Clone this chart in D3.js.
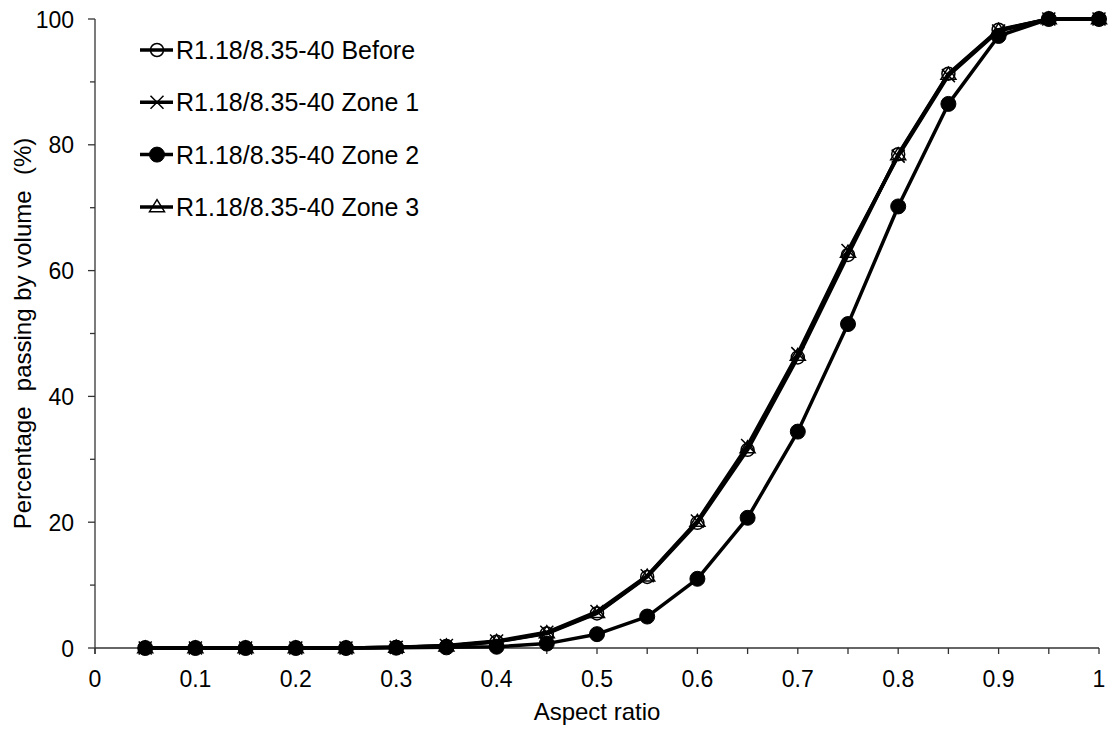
<!DOCTYPE html>
<html>
<head>
<meta charset="utf-8">
<script src="https://cdn.jsdelivr.net/npm/d3@7"></script>
<style>
  html, body { margin: 0; padding: 0; background: #fff; }
  svg { display: block; }
  text { font-family: "Liberation Sans", Arial, sans-serif; fill: #000; }
</style>
</head>
<body>
<svg id="chart" width="1112" height="731"></svg>
<script>
// Aspect ratio classes (upper bound of each class)
const aspectRatio = [0.05, 0.1, 0.15, 0.2, 0.25, 0.3, 0.35, 0.4, 0.45, 0.5, 0.55, 0.6, 0.65, 0.7, 0.75, 0.8, 0.85, 0.9, 0.95, 1.0];

// Cumulative percentage passing by volume (%)
const before = [0, 0, 0, 0, 0, 0.1, 0.3, 1.0, 2.3, 5.5, 11.3, 19.9, 31.5, 46.2, 62.5, 78.5, 91.3, 98.3, 100, 100];
const zone1  = [0, 0, 0, 0, 0, 0.1, 0.4, 1.1, 2.5, 5.8, 11.5, 20.2, 32.2, 46.8, 63.2, 78.2, 91.0, 98.1, 100, 100];
const zone2  = [0, 0, 0, 0, 0, 0.05, 0.1, 0.2, 0.7, 2.2, 5.0, 11.0, 20.7, 34.4, 51.5, 70.2, 86.5, 97.3, 100, 100];
const zone3  = [0, 0, 0, 0, 0, 0.1, 0.3, 1.0, 2.4, 5.6, 11.4, 20.1, 31.8, 46.5, 62.9, 78.4, 91.2, 98.2, 100, 100];

const seriesNames = ["R1.18/8.35-40 Before", "R1.18/8.35-40 Zone 1", "R1.18/8.35-40 Zone 2", "R1.18/8.35-40 Zone 3"];
const seriesMarkers = ["openCircle", "cross", "filledCircle", "openTriangle"];

const xTicks = [0, 0.1, 0.2, 0.3, 0.4, 0.5, 0.6, 0.7, 0.8, 0.9, 1];
const yTicks = [0, 20, 40, 60, 80, 100];

const series = [before, zone1, zone2, zone3].map((vals, i) => ({
  name: seriesNames[i],
  marker: seriesMarkers[i],
  points: vals.map((v, j) => ({ x: aspectRatio[j], y: v }))
}));

const svg = d3.select("#chart");
const plotLeft = 95, plotRight = 1099, plotTop = 19, plotBottom = 648;

const x = d3.scaleLinear().domain([0, 1]).range([plotLeft, plotRight]);
const y = d3.scaleLinear().domain([0, 100]).range([plotBottom, plotTop]);

// Minor ticks
const xMinor = d3.range(0, 1.0001, 0.05);
const yMinor = d3.range(10, 100, 20);

const axisColor = "#333";

// X axis
const gx = svg.append("g").attr("transform", `translate(0,${plotBottom})`);
gx.append("line").attr("x1", plotLeft).attr("x2", plotRight).attr("y1", 0).attr("y2", 0)
  .attr("stroke", axisColor).attr("stroke-width", 1.3);
gx.selectAll("line.tick").data(xMinor).join("line")
  .attr("class", "tick")
  .attr("x1", d => x(d)).attr("x2", d => x(d))
  .attr("y1", 0).attr("y2", 6)
  .attr("stroke", axisColor).attr("stroke-width", 1.3);
gx.selectAll("text").data(xTicks).join("text")
  .attr("x", d => x(d)).attr("y", 39)
  .attr("text-anchor", "middle")
  .style("font-size", "23px")
  .text(d => d3.format("~g")(d));

// Y axis
const gy = svg.append("g");
gy.append("line").attr("x1", plotLeft).attr("x2", plotLeft).attr("y1", plotTop).attr("y2", plotBottom + 6)
  .attr("stroke", axisColor).attr("stroke-width", 1.3);
gy.selectAll("line.major").data(yTicks).join("line")
  .attr("class", "major")
  .attr("x1", plotLeft - 7).attr("x2", plotLeft)
  .attr("y1", d => y(d)).attr("y2", d => y(d))
  .attr("stroke", axisColor).attr("stroke-width", 1.3);
gy.selectAll("line.minor").data(yMinor).join("line")
  .attr("class", "minor")
  .attr("x1", plotLeft - 5).attr("x2", plotLeft)
  .attr("y1", d => y(d)).attr("y2", d => y(d))
  .attr("stroke", axisColor).attr("stroke-width", 1.3);
gy.selectAll("text").data(yTicks).join("text")
  .attr("x", plotLeft - 21).attr("y", d => y(d) + 8.5)
  .attr("text-anchor", "end")
  .style("font-size", "23px")
  .text(d => d);

// Axis titles
svg.append("text")
  .attr("x", (plotLeft + plotRight) / 2).attr("y", 720)
  .attr("text-anchor", "middle")
  .style("font-size", "24px")
  .text("Aspect ratio");

svg.append("text")
  .attr("transform", `translate(31,${(plotTop + plotBottom) / 2}) rotate(-90)`)
  .attr("text-anchor", "middle")
  .style("font-size", "24px")
  .style("white-space", "pre")
  .style("word-spacing", "1px")
  .text("Percentage  passing by volume  (%)");

// Marker drawing
function drawMarker(g, type, cx, cy) {
  if (type === "openCircle") {
    g.append("circle").attr("cx", cx).attr("cy", cy).attr("r", 6.5)
      .attr("fill", "none").attr("stroke", "#000").attr("stroke-width", 1.5);
  } else if (type === "filledCircle") {
    g.append("circle").attr("cx", cx).attr("cy", cy).attr("r", 7.5)
      .attr("fill", "#000").attr("stroke", "#000").attr("stroke-width", 1);
  } else if (type === "cross") {
    const s = 6.5;
    g.append("path")
      .attr("d", `M${cx - s},${cy - s}L${cx + s},${cy + s}M${cx - s},${cy + s}L${cx + s},${cy - s}`)
      .attr("stroke", "#000").attr("stroke-width", 1.5).attr("fill", "none");
  } else if (type === "openTriangle") {
    const w = 7.5, h = 12;
    g.append("path")
      .attr("d", `M${cx},${cy - h * 0.6}L${cx + w},${cy + h * 0.4}L${cx - w},${cy + h * 0.4}Z`)
      .attr("stroke", "#000").attr("stroke-width", 1.5).attr("fill", "none");
  }
}

const line = d3.line().x(d => x(d.x)).y(d => y(d.y));

const plot = svg.append("g");
series.forEach(s => {
  const g = plot.append("g");
  g.append("path").datum(s.points)
    .attr("d", line)
    .attr("fill", "none").attr("stroke", "#000").attr("stroke-width", 3.5)
    .attr("stroke-linejoin", "round");
  s.points.forEach(p => drawMarker(g, s.marker, x(p.x), y(p.y)));
});

// Legend
const legend = svg.append("g");
series.forEach((s, i) => {
  const cy = 50 + i * 52.3;
  legend.append("line").attr("x1", 140).attr("x2", 173).attr("y1", cy).attr("y2", cy)
    .attr("stroke", "#000").attr("stroke-width", 3.5);
  drawMarker(legend, s.marker, 157, cy);
  legend.append("text").attr("x", 176).attr("y", cy + 9)
    .style("font-size", "25px")
    .text(s.name);
});
</script>
</body>
</html>
